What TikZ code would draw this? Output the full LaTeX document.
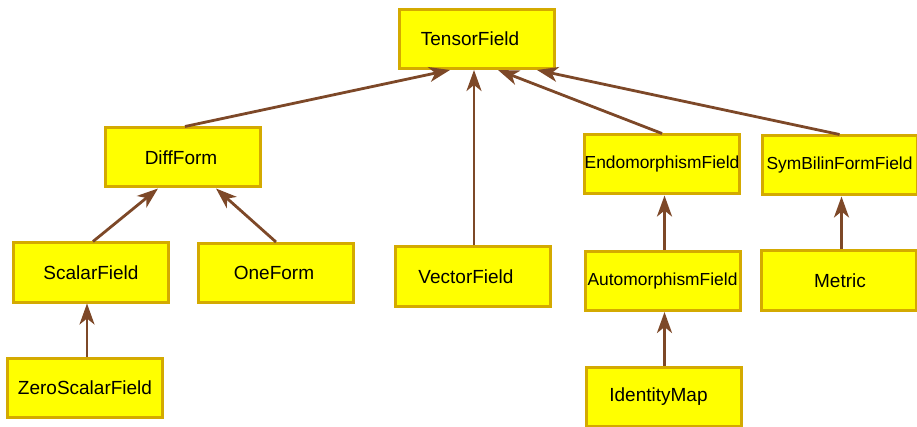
\documentclass[tikz,border=0pt]{standalone}
\usepackage{fontspec}
\setmainfont{Liberation Sans}
\usetikzlibrary{arrows.meta}
\definecolor{boxfill}{RGB}{255,255,0}
\definecolor{boxline}{RGB}{212,170,0}
\definecolor{arrcol}{RGB}{125,72,40}
\tikzset{
  cls/.style={draw=boxline, fill=boxfill, line width=3pt, minimum width=155pt, minimum height=59pt, inner sep=0pt, font=\fontsize{19}{22}\selectfont},
  clssmall/.style={cls, font=\fontsize{17.4}{21}\selectfont},
  arr/.style={draw=arrcol, line width=2.8pt, -{Stealth[length=21pt,width=15pt,inset=6pt]}}
}
\begin{document}
\begin{tikzpicture}[x=1pt,y=-1pt]
\useasboundingbox (0,0) rectangle (917,427);
\node[cls] (t) at (477,39) {TensorField\hspace*{14pt}};
\node[cls] (d) at (183,157.5) {DiffForm\hspace*{4pt}};
\node[cls] (sc) at (91,272.5) {ScalarField};
\node[cls] (o) at (276,273) {OneForm\hspace*{4pt}};
\node[cls] (z) at (85,387.5) {ZeroScalarField};
\node[cls] (v) at (473,276.5) {VectorField\hspace*{14pt}};
\node[clssmall] (e) at (662,164.5) {EndomorphismField};
\node[clssmall] (s) at (839.5,165.5) {SymBilinFormField};
\node[clssmall] (a) at (662.5,281) {AutomorphismField};
\node[cls] (m) at (838.5,280.5) {\hspace*{3pt}Metric};
\node[cls] (i) at (663.5,396.5) {IdentityMap\hspace*{10pt}};
\draw[arr] ([xshift=2pt]d.north) -- ([xshift=-27pt]t.south);
\draw[arr] ([xshift=1pt]v.north) -- ([xshift=1pt]v.north |- t.south);
\draw[arr] (e.north) -- ([xshift=21pt]t.south);
\draw[arr] (s.north) -- ([xshift=60pt]t.south);
\draw[arr] ([xshift=2pt]sc.north) -- ([xshift=-25pt]d.south);
\draw[arr] (o.north) -- ([xshift=33pt]d.south);
\draw[arr] ([xshift=2pt]z.north) -- ([xshift=2pt]z.north |- sc.south);
\draw[arr] ([xshift=2pt]a.north) -- ([xshift=2pt]a.north |- e.south);
\draw[arr] ([xshift=3pt]m.north) -- ([xshift=3pt]m.north |- s.south);
\draw[arr] ([xshift=1pt]i.north) -- ([xshift=1pt]i.north |- a.south);
\end{tikzpicture}
\end{document}
